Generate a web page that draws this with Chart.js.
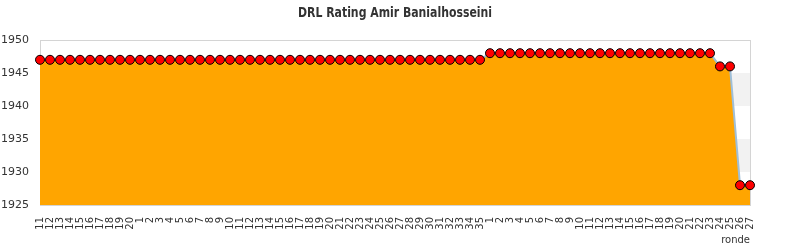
<!DOCTYPE html>
<html>
<head>
<meta charset="utf-8">
<script src="https://cdn.jsdelivr.net/npm/chart.js@4/dist/chart.umd.min.js"></script>
<style>
  html, body { margin: 0; padding: 0; background: #fff; }
  #wrap { width: 790px; height: 250px; }
</style>
</head>
<body>
<div id="wrap"><canvas id="graph_results" width="790" height="250"></canvas></div>
<script>
let chart_title = 'DRL Rating Amir Banialhosseini';

// rounds (three tournaments in a row)
let rounds_a = ['11','12','13','14','15','16','17','18','19','20'];
let rounds_b = ['1','2','3','4','5','6','7','8','9','10','11','12','13','14','15','16','17','18','19','20',
                '21','22','23','24','25','26','27','28','29','30','31','32','33','34','35'];
let rounds_c = ['1','2','3','4','5','6','7','8','9','10','11','12','13','14','15','16','17','18','19','20',
                '21','22','23','24','25','26','27'];

// rating after each round
let rating_a = [1947,1947,1947,1947,1947,1947,1947,1947,1947,1947];
let rating_b = [1947,1947,1947,1947,1947,1947,1947,1947,1947,1947,1947,1947,1947,1947,1947,1947,1947,1947,1947,1947,
                1947,1947,1947,1947,1947,1947,1947,1947,1947,1947,1947,1947,1947,1947,1947];
let rating_c = [1948,1948,1948,1948,1948,1948,1948,1948,1948,1948,1948,1948,1948,1948,1948,1948,1948,1948,1948,1948,
                1948,1948,1948,1946,1946,1928,1928];

let y_ticks = [1925,1930,1935,1940,1945,1950];

let labels = rounds_a.concat(rounds_b, rounds_c);
let ratings = rating_a.concat(rating_b, rating_c);

// striped background + frame of the plot area
let bands = {
  id: 'bands',
  beforeDatasetsDraw(chart) {
    let ctx = chart.ctx;
    let area = chart.chartArea;
    let y = chart.scales.y;
    ctx.save();
    for (let i = 0; i < y_ticks.length - 1; i++) {
      let top = y.getPixelForValue(y_ticks[i + 1]);
      let bot = y.getPixelForValue(y_ticks[i]);
      ctx.fillStyle = (i % 2 == 1) ? '#f2f2f2' : '#ffffff';
      ctx.fillRect(area.left, top, area.right - area.left, bot - top);
    }
    ctx.strokeStyle = '#d4d4d4';
    ctx.lineWidth = 1;
    ctx.strokeRect(area.left + 0.5, area.top + 0.5, area.right - area.left, area.bottom - area.top);
    ctx.restore();
  }
};

// title centred on the whole canvas, squeezed to a narrow face
let titlePlugin = {
  id: 'titlePlugin',
  afterDraw(chart) {
    let ctx = chart.ctx;
    ctx.save();
    ctx.fillStyle = '#333333';
    ctx.font = "bold 14px 'DejaVu Sans Condensed', sans-serif";
    let w = ctx.measureText(chart_title).width;
    let sx = 194 / w;
    ctx.translate(chart.width / 2, 17);
    ctx.scale(sx, 1);
    ctx.textAlign = 'center';
    ctx.textBaseline = 'alphabetic';
    ctx.fillText(chart_title, 0, 0);
    ctx.restore();
  }
};

let ctx = document.getElementById('graph_results').getContext('2d');
let chart = new Chart(ctx, {
  type: 'line',
  data: {
    labels: labels,
    datasets: [{
      label: 'rating',
      data: ratings,
      borderColor: '#9fbfd8',
      borderWidth: 2,
      backgroundColor: '#ffa500',
      fill: 'start',
      tension: 0,
      pointStyle: 'circle',
      pointRadius: 4.5,
      pointBackgroundColor: '#ff0000',
      pointBorderColor: '#000000',
      pointBorderWidth: 1,
      clip: 6
    }]
  },
  options: {
    responsive: false,
    animation: false,
    devicePixelRatio: 1,
    layout: { padding: { top: 40, right: 40, left: 0, bottom: 0 } },
    plugins: {
      legend: { display: false },
      tooltip: { enabled: false },
      title: { display: false }
    },
    scales: {
      x: {
        type: 'category',
        offset: false,
        grid: { display: false, drawTicks: false },
        border: { display: false },
        ticks: {
          autoSkip: false,
          minRotation: 90,
          maxRotation: 90,
          padding: 12,
          color: '#333333',
          font: { family: "'DejaVu Sans', sans-serif", size: 10 }
        },
        title: {
          display: true,
          text: 'ronde',
          align: 'end',
          color: '#333333',
          font: { family: "'DejaVu Sans', sans-serif", size: 10 },
          padding: { top: 2, bottom: 4 }
        },
        afterFit: function(scale) { scale.height = 45; }
      },
      y: {
        min: 1925,
        max: 1950,
        grid: { display: false, drawTicks: false },
        border: { display: false },
        ticks: {
          stepSize: 5,
          padding: 11,
          color: '#333333',
          font: { family: "'DejaVu Sans', sans-serif", size: 11 },
          callback: function(value) { return String(value); }
        },
        afterFit: function(scale) { scale.width = 40; }
      }
    }
  },
  plugins: [bands, titlePlugin]
});
</script>
</body>
</html>
